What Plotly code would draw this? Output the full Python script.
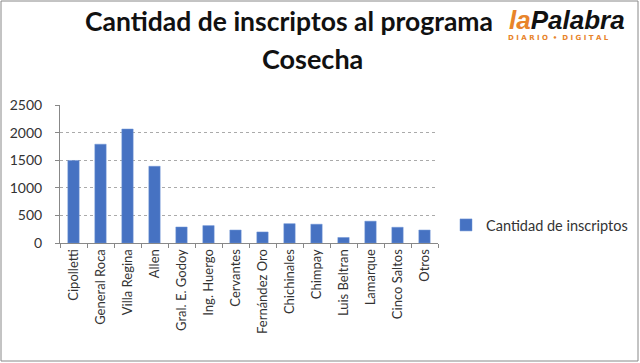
import plotly.graph_objects as go

categories = ["Cipolletti", "General Roca", "Villa Regina", "Allen", "Gral. E. Godoy",
              "Ing. Huergo", "Cervantes", "Fernández Oro", "Chichinales", "Chimpay",
              "Luis Beltran", "Lamarque", "Cinco Saltos", "Otros"]
inscriptos = [1495, 1790, 2065, 1390, 290, 315, 235, 200, 350, 340, 100, 395, 285, 235]
y_ticks = [0, 500, 1000, 1500, 2000, 2500]
series_name = "Cantidad de inscriptos"
title_line1 = "Cantidad de inscriptos al programa"
title_line2 = "Cosecha"

FONT = "Lato, 'Open Sans', sans-serif"
L, T, PW, PH = 60, 105, 378, 138


def px(xp):
    return (xp - L) / PW


def py(yp):
    return (T + PH - yp) / PH


fig = go.Figure()
fig.add_trace(go.Bar(
    x=categories, y=inscriptos, name=series_name,
    marker=dict(color="#4672C2", line=dict(color="#6F94D6", width=0.5)),
    showlegend=True,
))

fig.update_layout(
    width=640, height=363,
    margin=dict(l=L, r=640 - L - PW, t=T, b=363 - T - PH, autoexpand=False),
    paper_bgcolor="white", plot_bgcolor="white",
    bargap=0.58,
    font=dict(family=FONT, size=13, color="#333333"),
    showlegend=True,
    legend=dict(x=px(446), y=py(225), xanchor="left", yanchor="middle",
                font=dict(family=FONT, size=14.5, color="#333333"),
                itemwidth=30, bgcolor="rgba(0,0,0,0)"),
    xaxis=dict(
        type="category", tickangle=-90, tickson="boundaries", automargin=False,
        ticks="outside", ticklen=4, tickcolor="#888888",
        showline=True, linecolor="#888888", linewidth=1,
        showgrid=False,
        tickfont=dict(family=FONT, size=13, color="#333333"),
    ),
    yaxis=dict(
        range=[0, 2500], tickvals=y_ticks, automargin=False,
        ticks="outside", ticklen=4, tickcolor="#888888",
        showline=True, linecolor="#888888", linewidth=1,
        showgrid=True, gridcolor="#AAAAAA", griddash="dot", gridwidth=1,
        zeroline=False, ticklabelstandoff=10,
        tickfont=dict(family=FONT, size=14, color="#333333"),
    ),
    annotations=[
        dict(text="<b>" + title_line1 + "</b>", xref="paper", yref="paper",
             x=px(83), y=py(21), xanchor="left", yanchor="middle",
             showarrow=False, font=dict(family=FONT, size=26.5, color="#111111")),
        dict(text="<b>" + title_line2 + "</b>", xref="paper", yref="paper",
             x=px(312), y=py(58), xanchor="center", yanchor="middle",
             showarrow=False, font=dict(family=FONT, size=27, color="#111111")),
        dict(text="<b><i><span style='color:#E8842A'>la</span>Palabra</i></b>",
             xref="paper", yref="paper", x=px(567), y=py(20),
             xanchor="center", yanchor="middle", showarrow=False,
             font=dict(family="'Liberation Sans', Arial, sans-serif", size=26, color="#111111")),
        dict(text="<b>D I A R I O  •  D I G I T A L</b>",
             xref="paper", yref="paper", x=px(558), y=py(38),
             xanchor="center", yanchor="middle", showarrow=False,
             font=dict(family="'DejaVu Sans', sans-serif", size=7, color="#E8842A")),
    ],
    shapes=[
        dict(type="rect", xref="paper", yref="paper",
             x0=px(1), x1=px(638), y0=py(361), y1=py(1),
             line=dict(color="#888888", width=1)),
    ],
)

fig.write_html("out.html", config={"displayModeBar": False},
               post_script="document.body.style.margin='0';document.body.style.padding='0';")
